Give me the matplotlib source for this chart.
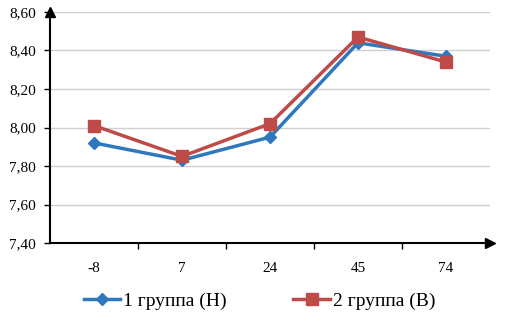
import matplotlib
matplotlib.use("Agg")
import matplotlib.pyplot as plt

categories = ["-8", "7", "24", "45", "74"]
group1 = [7.92, 7.83, 7.95, 8.44, 8.37]
group2 = [8.01, 7.85, 8.02, 8.47, 8.34]
series_names = ["1 группа (Н)", "2 группа (В)"]
yticks = [7.40, 7.60, 7.80, 8.00, 8.20, 8.40, 8.60]

plt.rcParams['font.family'] = ['Liberation Serif', 'DejaVu Serif']

fig = plt.figure(figsize=(5.09, 3.25), dpi=100)
ax = fig.add_axes([50/509, 1-243/325, 440/509, (243-12)/325])

x = list(range(len(categories)))
blue = "#2F78BD"
red = "#BE4B48"
ax.plot(x, group1, color=blue, lw=2.5, marker='D', ms=6.5, label=series_names[0], zorder=3)
ax.plot(x, group2, color=red, lw=2.5, marker='s', ms=8, label=series_names[1], zorder=4)

ax.set_xlim(-0.5, len(categories) - 0.5)
ax.set_ylim(yticks[0], yticks[-1])
ax.set_yticks(yticks)
ax.set_yticklabels([f"{v:.2f}".replace('.', ',') for v in yticks], fontsize=11)
ax.set_xticks(x)
ax.set_xticklabels(categories, fontsize=11)
ax.set_xticks([i + 0.5 for i in range(len(categories) - 1)], minor=True)
ax.tick_params(axis='x', which='major', length=0, pad=14)
ax.tick_params(axis='x', which='minor', length=4, width=1, direction='out')
ax.tick_params(axis='y', length=4, width=1, direction='out', pad=6)

ax.grid(axis='y', color='#D0D0D0', lw=1)
ax.set_axisbelow(True)
for s in ['top', 'right']:
    ax.spines[s].set_visible(False)
for s in ['left', 'bottom']:
    ax.spines[s].set_linewidth(1.5)
    ax.spines[s].set_color('black')

ax.plot([1.0], [0.0], marker='>', color='black', ms=7, transform=ax.transAxes, clip_on=False)
ax.plot([0.0], [1.0], marker='^', color='black', ms=7, transform=ax.transAxes, clip_on=False)

fig.legend(loc='center', bbox_to_anchor=(0.5 + 5/509, 1-301/325), ncol=2, frameon=False,
           fontsize=14, handlelength=1.9, handletextpad=0.15, columnspacing=3.4)

fig.savefig("out.png", dpi=100)
